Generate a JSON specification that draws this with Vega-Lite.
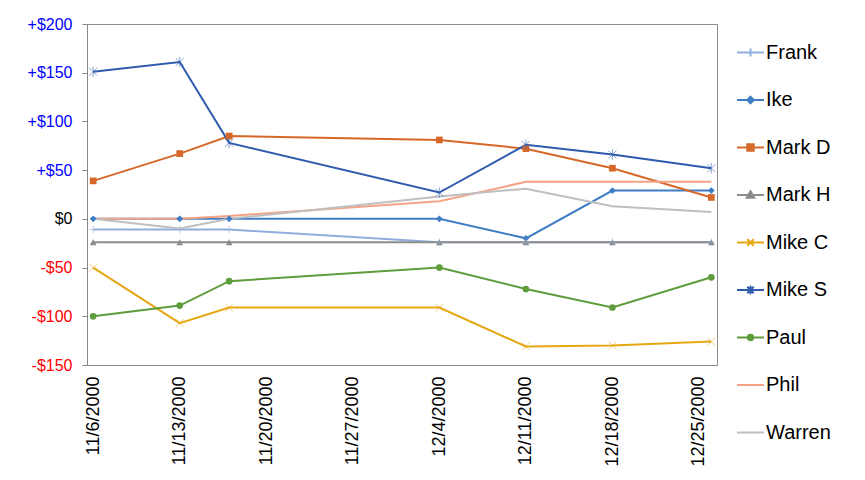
{
  "$schema": "https://vega.github.io/schema/vega-lite/v6.json",
  "width": 630,
  "height": 341,
  "autosize": {"type": "none"},
  "padding": {"left": 87, "top": 24, "right": 148, "bottom": 115},
  "background": "white",
  "config": {
    "font": "Liberation Sans",
    "view": {"stroke": "#8C8C8C", "strokeWidth": 1}
  },
  "data": {
    "values": [
      {"date": "2000-11-06", "name": "Frank", "value": -11},
      {"date": "2000-11-13", "name": "Frank", "value": -11},
      {"date": "2000-11-17", "name": "Frank", "value": -11},
      {"date": "2000-12-04", "name": "Frank", "value": -24},
      {"date": "2000-12-11", "name": "Frank", "value": -24},
      {"date": "2000-12-18", "name": "Frank", "value": -24},
      {"date": "2000-12-26", "name": "Frank", "value": -24},
      {"date": "2000-11-06", "name": "Ike", "value": 0},
      {"date": "2000-11-13", "name": "Ike", "value": 0},
      {"date": "2000-11-17", "name": "Ike", "value": 0},
      {"date": "2000-12-04", "name": "Ike", "value": 0},
      {"date": "2000-12-11", "name": "Ike", "value": -20},
      {"date": "2000-12-18", "name": "Ike", "value": 29},
      {"date": "2000-12-26", "name": "Ike", "value": 29},
      {"date": "2000-11-06", "name": "Mark D", "value": 39},
      {"date": "2000-11-13", "name": "Mark D", "value": 67},
      {"date": "2000-11-17", "name": "Mark D", "value": 85},
      {"date": "2000-12-04", "name": "Mark D", "value": 81},
      {"date": "2000-12-11", "name": "Mark D", "value": 72},
      {"date": "2000-12-18", "name": "Mark D", "value": 52},
      {"date": "2000-12-26", "name": "Mark D", "value": 22},
      {"date": "2000-11-06", "name": "Mark H", "value": -24},
      {"date": "2000-11-13", "name": "Mark H", "value": -24},
      {"date": "2000-11-17", "name": "Mark H", "value": -24},
      {"date": "2000-12-04", "name": "Mark H", "value": -24},
      {"date": "2000-12-11", "name": "Mark H", "value": -24},
      {"date": "2000-12-18", "name": "Mark H", "value": -24},
      {"date": "2000-12-26", "name": "Mark H", "value": -24},
      {"date": "2000-11-06", "name": "Mike C", "value": -50},
      {"date": "2000-11-13", "name": "Mike C", "value": -107},
      {"date": "2000-11-17", "name": "Mike C", "value": -91},
      {"date": "2000-12-04", "name": "Mike C", "value": -91},
      {"date": "2000-12-11", "name": "Mike C", "value": -131},
      {"date": "2000-12-18", "name": "Mike C", "value": -130},
      {"date": "2000-12-26", "name": "Mike C", "value": -126},
      {"date": "2000-11-06", "name": "Mike S", "value": 151},
      {"date": "2000-11-13", "name": "Mike S", "value": 161},
      {"date": "2000-11-17", "name": "Mike S", "value": 78},
      {"date": "2000-12-04", "name": "Mike S", "value": 27},
      {"date": "2000-12-11", "name": "Mike S", "value": 76},
      {"date": "2000-12-18", "name": "Mike S", "value": 66},
      {"date": "2000-12-26", "name": "Mike S", "value": 52},
      {"date": "2000-11-06", "name": "Paul", "value": -100},
      {"date": "2000-11-13", "name": "Paul", "value": -89},
      {"date": "2000-11-17", "name": "Paul", "value": -64},
      {"date": "2000-12-04", "name": "Paul", "value": -50},
      {"date": "2000-12-11", "name": "Paul", "value": -72},
      {"date": "2000-12-18", "name": "Paul", "value": -91},
      {"date": "2000-12-26", "name": "Paul", "value": -60},
      {"date": "2000-11-06", "name": "Phil", "value": 0},
      {"date": "2000-11-13", "name": "Phil", "value": 0},
      {"date": "2000-11-17", "name": "Phil", "value": 3},
      {"date": "2000-12-04", "name": "Phil", "value": 18},
      {"date": "2000-12-11", "name": "Phil", "value": 38},
      {"date": "2000-12-18", "name": "Phil", "value": 38},
      {"date": "2000-12-26", "name": "Phil", "value": 38},
      {"date": "2000-11-06", "name": "Warren", "value": 0},
      {"date": "2000-11-13", "name": "Warren", "value": -10},
      {"date": "2000-11-17", "name": "Warren", "value": 0},
      {"date": "2000-12-04", "name": "Warren", "value": 23},
      {"date": "2000-12-11", "name": "Warren", "value": 31},
      {"date": "2000-12-18", "name": "Warren", "value": 13},
      {"date": "2000-12-26", "name": "Warren", "value": 7}
    ]
  },
  "encoding": {
    "x": {
      "field": "date",
      "type": "temporal",
      "title": null,
      "scale": {
        "type": "utc",
        "domain": [
          {"year": 2000, "month": 11, "date": 5, "hours": 12, "utc": true},
          {"year": 2000, "month": 12, "date": 26, "hours": 11, "utc": true}
        ]
      },
      "axis": {
        "values": [
          {"year": 2000, "month": 11, "date": 6, "utc": true},
          {"year": 2000, "month": 11, "date": 13, "utc": true},
          {"year": 2000, "month": 11, "date": 20, "utc": true},
          {"year": 2000, "month": 11, "date": 27, "utc": true},
          {"year": 2000, "month": 12, "date": 4, "utc": true},
          {"year": 2000, "month": 12, "date": 11, "utc": true},
          {"year": 2000, "month": 12, "date": 18, "utc": true},
          {"year": 2000, "month": 12, "date": 25, "utc": true}
        ],
        "format": "%-m/%-d/%Y",
        "labelAngle": -90,
        "labelFontSize": 18,
        "labelColor": "black",
        "labelPadding": 11,
        "labelFlush": false,
        "labelOverlap": false,
        "ticks": false,
        "grid": false,
        "domainColor": "#868686"
      }
    },
    "y": {
      "field": "value",
      "type": "quantitative",
      "title": null,
      "scale": {"domain": [-150, 200], "nice": false, "zero": false},
      "axis": {
        "values": [-150, -100, -50, 0, 50, 100, 150, 200],
        "labelExpr": "datum.value > 0 ? '+$' + datum.value : (datum.value < 0 ? '-$' + abs(datum.value) : '$0')",
        "labelColor": {"expr": "datum.value > 0 ? '#0000FF' : (datum.value < 0 ? '#FF0000' : '#000000')"},
        "labelFontSize": 16,
        "labelPadding": 10,
        "tickSize": 5,
        "tickColor": "#868686",
        "domainColor": "#868686",
        "grid": false
      }
    },
    "color": {
      "field": "name",
      "type": "nominal",
      "scale": {
        "domain": ["Frank", "Ike", "Mark D", "Mark H", "Mike C", "Mike S", "Paul", "Phil", "Warren"],
        "range": ["#8FAEDD", "#3E7DC6", "#D6692A", "#8C8C8C", "#E5A712", "#2F5BAE", "#5E9C3C", "#F4A384", "#BFBFBF"]
      },
      "legend": {
        "title": null,
        "orient": "none",
        "legendX": 649,
        "legendY": 14,
        "padding": 0,
        "symbolSize": 729,
        "symbolStrokeWidth": 2,
        "labelFontSize": 20,
        "labelColor": "black",
        "labelOffset": 1,
        "rowPadding": 22.5,
        "encode": {
          "symbols": {
            "update": {
              "shape": {"signal": "['M-1,0H1M0,-0.3V0.3', 'M-1,0H1M0,-0.24L0.24,0L0,0.24L-0.24,0Z', 'M-1,0H1M-0.24,-0.24H0.24V0.24H-0.24Z', 'M-1,0H1M0,-0.28L0.28,0.2H-0.28Z', 'M-1,0H1M-0.24,-0.24L0.24,0.24M-0.24,0.24L0.24,-0.24', 'M-1,0H1M-0.24,-0.24L0.24,0.24M-0.24,0.24L0.24,-0.24M0,-0.32V0.32', 'M-1,0H1M0.2,0A0.2,0.2,0,1,1,-0.2,0A0.2,0.2,0,1,1,0.2,0Z', 'M-1,0H1', 'M-1,0H1'][indexof(['Frank','Ike','Mark D','Mark H','Mike C','Mike S','Paul','Phil','Warren'], datum.value)]"},
              "fill": {"signal": "scale('color', datum.value)"},
              "stroke": {"signal": "scale('color', datum.value)"},
              "strokeWidth": {"value": 2},
              "opacity": {"value": 1}
            }
          }
        }
      }
    }
  },
  "layer": [
    {
      "mark": {"type": "line", "strokeWidth": 2}
    },
    {
      "transform": [{"filter": {"field": "name", "oneOf": ["Ike", "Mark D", "Mark H", "Paul"]}}],
      "mark": {"type": "point", "filled": true, "opacity": 1, "size": 45},
      "encoding": {
        "shape": {
          "field": "name",
          "type": "nominal",
          "scale": {"domain": ["Ike", "Mark D", "Mark H", "Paul"], "range": ["diamond", "square", "triangle-up", "circle"]},
          "legend": null
        }
      }
    },
    {
      "transform": [{"filter": {"field": "name", "oneOf": ["Frank", "Mike C", "Mike S"]}}],
      "mark": {"type": "point", "filled": false, "opacity": 0.55, "size": 64, "strokeWidth": 1},
      "encoding": {
        "shape": {
          "field": "name",
          "type": "nominal",
          "scale": {"domain": ["Frank", "Mike C", "Mike S"], "range": ["M-1,0H1M0,-1V1", "M-1,-1L1,1M-1,1L1,-1", "M-1,-1L1,1M-1,1L1,-1M0,-1.3V1.3"]},
          "legend": null
        }
      }
    }
  ],
  "resolve": {"scale": {"shape": "independent"}, "legend": {"shape": "independent"}}
}
